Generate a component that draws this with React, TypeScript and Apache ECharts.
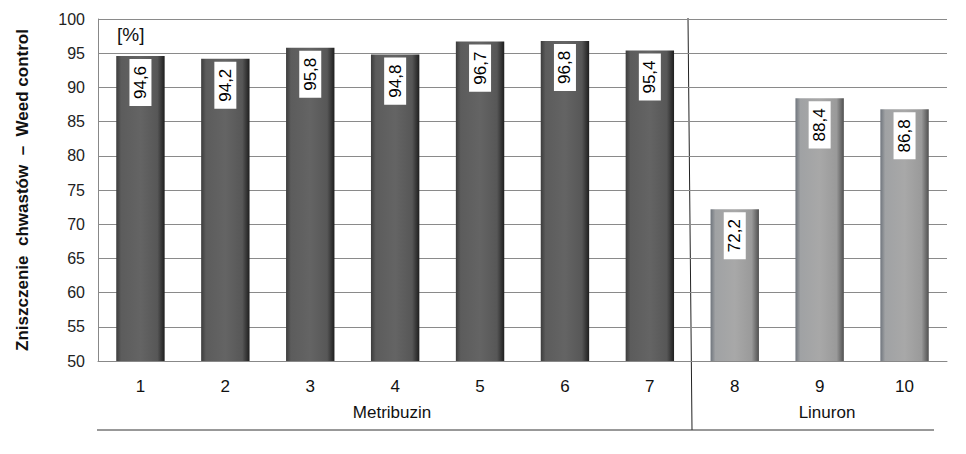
import React, { useEffect, useRef } from "react";
import * as echarts from "echarts";

const categories = ["1", "2", "3", "4", "5", "6", "7", "8", "9", "10"];
const values = [94.6, 94.2, 95.8, 94.8, 96.7, 96.8, 95.4, 72.2, 88.4, 86.8];
const groups = ["Metribuzin", "Linuron"];
const yAxisTitle = "Zniszczenie  chwastów  –  Weed control";
const unitLabel = "[%]";

const FONT = "Liberation Sans, Arial, sans-serif";

const darkFill = new echarts.graphic.LinearGradient(0, 0, 1, 0, [
  { offset: 0, color: "#3c3c3c" },
  { offset: 0.1, color: "#5c5c5c" },
  { offset: 0.5, color: "#646464" },
  { offset: 0.85, color: "#575757" },
  { offset: 1, color: "#1e1e1e" },
]);
const lightFill = new echarts.graphic.LinearGradient(0, 0, 1, 0, [
  { offset: 0, color: "#6f757d" },
  { offset: 0.1, color: "#a0a2a4" },
  { offset: 0.5, color: "#a8a8a8" },
  { offset: 0.85, color: "#9a9a9a" },
  { offset: 1, color: "#505050" },
]);

export default function App() {
  const ref = useRef<HTMLDivElement>(null);
  useEffect(() => {
    if (!ref.current) return;
    const chart = echarts.init(ref.current, null, { renderer: "svg" });
    chart.setOption({
      animation: false,
      backgroundColor: "#ffffff",
      grid: { left: 98, right: 19, top: 19, bottom: 93 },
      xAxis: {
        type: "category",
        data: categories,
        axisLine: { show: true, lineStyle: { color: "#888", width: 1 } },
        axisTick: { show: false },
        axisLabel: { fontFamily: FONT, fontSize: 17, color: "#111", margin: 17 },
      },
      yAxis: {
        type: "value",
        min: 50,
        max: 100,
        interval: 5,
        name: yAxisTitle,
        nameLocation: "middle",
        nameGap: 67,
        nameTextStyle: { fontFamily: FONT, fontSize: 17, fontWeight: "bold", color: "#111" },
        axisLine: { show: true, lineStyle: { color: "#888", width: 1 } },
        axisTick: { show: false },
        axisLabel: { fontFamily: FONT, fontSize: 16, color: "#222", margin: 13 },
        splitLine: { show: true, lineStyle: { color: "#8a8a8a", width: 1 } },
      },
      series: [
        {
          type: "bar",
          barWidth: "57%",
          data: values.map((v, i) => ({
            value: v,
            itemStyle: { color: i < 7 ? darkFill : lightFill },
          })),
          label: {
            show: true,
            position: "insideTop",
            rotate: 90,
            align: "right",
            verticalAlign: "middle",
            distance: 3,
            fontFamily: FONT,
            fontSize: 17,
            lineHeight: 18,
            color: "#000",
            backgroundColor: "#ffffff",
            padding: [2, 7],
            formatter: (p: any) => String(p.value).replace(".", ","),
          },
        },
      ],
      graphic: [
        {
          type: "text",
          x: 117,
          y: 34,
          style: {
            text: unitLabel,
            fontFamily: FONT,
            fontSize: 19,
            fill: "#111",
            verticalAlign: "middle",
          },
        },
        {
          type: "line",
          shape: { x1: 688, y1: 18, x2: 692, y2: 430 },
          style: { stroke: "#222", lineWidth: 1 },
        },
        {
          type: "line",
          shape: { x1: 97, y1: 430, x2: 934, y2: 430 },
          style: { stroke: "#333", lineWidth: 1 },
        },
        {
          type: "text",
          x: 392,
          y: 412,
          style: {
            text: groups[0],
            fontFamily: FONT,
            fontSize: 17,
            fill: "#111",
            align: "center",
            verticalAlign: "middle",
          },
        },
        {
          type: "text",
          x: 827,
          y: 412,
          style: {
            text: groups[1],
            fontFamily: FONT,
            fontSize: 17,
            fill: "#111",
            align: "center",
            verticalAlign: "middle",
          },
        },
      ],
    });
    return () => chart.dispose();
  }, []);
  return (
    <div
      ref={ref}
      style={{ position: "fixed", left: 0, top: 0, width: 966, height: 454 }}
    />
  );
}
